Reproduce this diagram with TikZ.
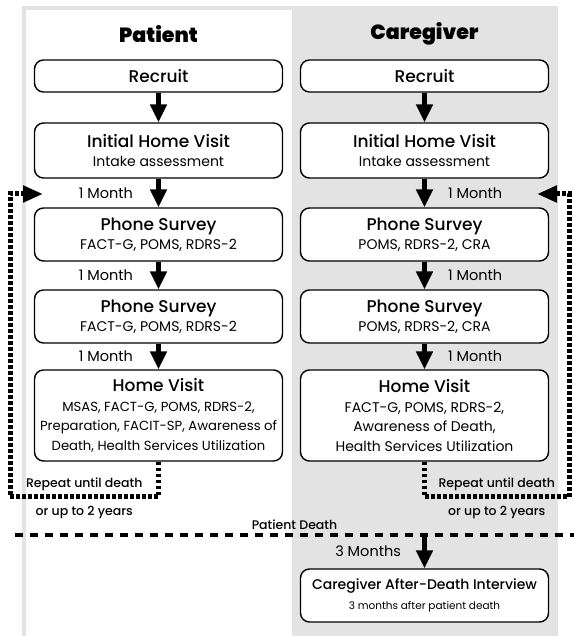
\documentclass[tikz,border=0pt]{standalone}
\usepackage{fontspec}
\setmainfont{Poppins}
\newfontfamily\medfont{Poppins Medium}
\newfontfamily\headfont{Poppins Black}
\usetikzlibrary{arrows.meta}
\definecolor{panelgray}{HTML}{E3E3E3}
\newcommand{\stagehead}[1]{{\medfont\fontsize{17}{19}\selectfont #1}}

\begin{document}
\begin{tikzpicture}[x=1pt,y=1pt,
    stage/.style={draw,line width=1.4pt,rounded corners=9pt,fill=white,
      minimum width=248pt,align=center,inner sep=1pt,
      font=\fontsize{14}{19.5}\selectfont},
    flow/.style={line width=4.5pt,-{Triangle[width=16pt,length=18pt]}},
    repeatloop/.style={line width=5pt,dash pattern=on 3.5pt off 2.5pt,
      -{Triangle[width=16pt,length=20pt]}},
    deathline/.style={line width=4pt,dash pattern=on 8pt off 7pt},
    monthlbl/.style={font=\fontsize{14.5}{16}\selectfont},
    loopnote/.style={font=\medfont\fontsize{12.5}{14}\selectfont},
    colhead/.style={font=\headfont\fontsize{20.5}{24}\selectfont}]
  \fill[panelgray] (22,1) rectangle (558,631);
  \fill[white]     (26,1) rectangle (292,627);
  \useasboundingbox (0,0) rectangle (574,637);

  \node[colhead] (phead) at (158.5,603) {Patient};
  \node[colhead] (chead) at (424.5,603) {Caregiver};

  \node[stage,minimum height=32pt] (pre)  at (158.5,561)   {\stagehead{Recruit}};
  \node[stage,minimum height=55pt] (pih)  at (158.5,486.5) {\stagehead{Initial Home Visit}\\Intake assessment};
  \node[stage,minimum height=53pt] (pps1) at (158.5,402.5) {\stagehead{Phone Survey}\\FACT-G, POMS, RDRS-2};
  \node[stage,minimum height=53pt] (pps2) at (158.5,320.5) {\stagehead{Phone Survey}\\FACT-G, POMS, RDRS-2};
  \node[stage,minimum height=91pt,font=\fontsize{13.2}{19.5}\selectfont] (phv) at (158.5,221.5)
    {\stagehead{Home Visit}\\MSAS, FACT-G, POMS, RDRS-2,\\
    Preparation, FACIT-SP, Awareness of\\Death, Health Services Utilization};

  \node[stage,minimum height=32pt] (cre)  at (424.5,561)   {\stagehead{Recruit}};
  \node[stage,minimum height=55pt] (cih)  at (424.5,486.5) {\stagehead{Initial Home Visit}\\Intake assessment};
  \node[stage,minimum height=53pt] (cps1) at (424.5,402.5) {\stagehead{Phone Survey}\\POMS, RDRS-2, CRA};
  \node[stage,minimum height=53pt] (cps2) at (424.5,320.5) {\stagehead{Phone Survey}\\POMS, RDRS-2, CRA};
  \node[stage,minimum height=91pt] (chv)  at (424.5,221.5) {\stagehead{Home Visit}\\FACT-G, POMS, RDRS-2,\\
    Awareness of Death,\\Health Services Utilization};
  \node[stage,minimum height=53pt,font=\fontsize{10.5}{19.5}\selectfont] (cad) at (424.5,41.5)
    {{\medfont\fontsize{14}{16}\selectfont Caregiver After-Death Interview}\\3 months after patient death};

  \draw[flow] (pre) -- (pih);
  \draw[flow] (pih)  -- node[monthlbl,left=20pt]{1 Month} (pps1);
  \draw[flow] (pps1) -- node[monthlbl,left=20pt]{1 Month} (pps2);
  \draw[flow] (pps2) -- node[monthlbl,left=20pt]{1 Month} (phv);
  \draw[flow] (cre) -- (cih);
  \draw[flow] (cih)  -- node[monthlbl,right=18pt]{1 Month} (cps1);
  \draw[flow] (cps1) -- node[monthlbl,right=18pt]{1 Month} (cps2);
  \draw[flow] (cps2) -- node[monthlbl,right=18pt]{1 Month} (chv);

  \coordinate (lcorner) at (10,140);
  \coordinate (ltip)    at (43,443);
  \coordinate (rcorner) at (569,140);
  \coordinate (rtip)    at (537,443);
  \draw[repeatloop] (phv.south) |- node[pos=0.75,above=0pt,loopnote]{Repeat until death}
    node[pos=0.75,below=3pt,loopnote]{or up to 2 years} (lcorner) |- (ltip);
  \draw[repeatloop] (chv.south) |- node[pos=0.75,above=0pt,loopnote]{Repeat until death}
    node[pos=0.75,below=3pt,loopnote]{or up to 2 years} (rcorner) |- (rtip);

  \coordinate (dleft)  at (15,102);
  \coordinate (dright) at (574,102);
  \coordinate (dcg)    at (424.5,102);
  \draw[deathline] (dleft) -- node[above,loopnote]{Patient Death} (dright);
  \draw[flow] (dcg) -- node[monthlbl,left=18pt]{3 Months} (cad);
\end{tikzpicture}
\end{document}
